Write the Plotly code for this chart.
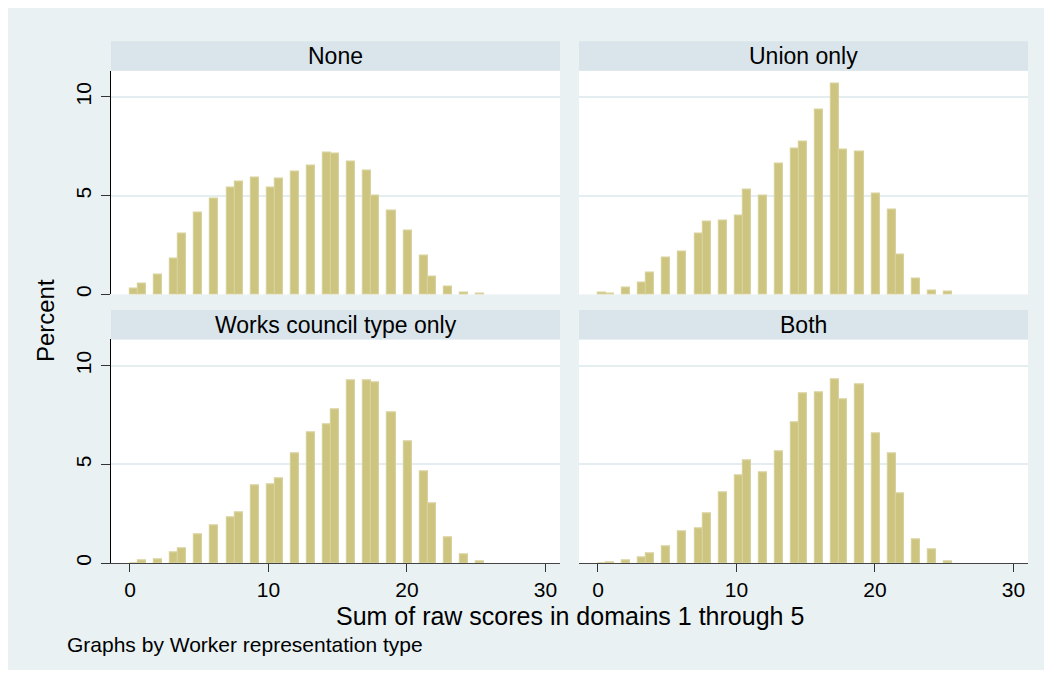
import math
import plotly.graph_objects as go

# ---------------- data ----------------
scores = list(range(26))  # sum of raw scores 0..25
none_pct = [0.27, 0.52, 1.02, 1.83, 3.09, 4.14, 4.85, 5.40, 5.70, 5.91, 5.40, 5.86, 6.21,
            6.51, 7.16, 7.11, 6.71, 6.26, 5.00, 4.24, 3.24, 1.98, 0.92, 0.37, 0.08, 0.03]
union_pct = [0.07, 0.02, 0.32, 0.57, 1.12, 1.88, 2.18, 3.09, 3.69, 3.74, 3.99, 5.30, 5.00,
             6.61, 7.37, 7.72, 9.33, 10.69, 7.32, 7.21, 5.10, 4.30, 2.03, 0.77, 0.17, 0.12]
works_pct = [0.0, 0.12, 0.17, 0.52, 0.72, 1.43, 1.93, 2.33, 2.58, 3.94, 3.99, 4.30, 5.55,
             6.61, 7.01, 7.77, 9.23, 9.23, 9.14, 7.62, 6.16, 4.65, 3.04, 1.28, 0.42, 0.07]
both_pct = [0.0, 0.02, 0.12, 0.27, 0.47, 0.87, 1.58, 1.78, 2.53, 3.59, 4.45, 5.20, 4.60,
            5.65, 7.11, 8.57, 8.67, 9.28, 8.27, 9.03, 6.56, 5.55, 3.54, 1.22, 0.67, 0.07]
panel_titles = ["None", "Union only", "Works council type only", "Both"]
x_ticks = [0, 10, 20, 30]
y_ticks = [0, 5, 10]
x_title = "Sum of raw scores in domains 1 through 5"
y_title = "Percent"
note = "Graphs by Worker representation type"

# histogram binning (Stata-like: 50 bins over the score range)
N_BINS = 50
SCORE_MIN, SCORE_MAX = 0.0, 29.05
bin_w = (SCORE_MAX - SCORE_MIN) / N_BINS
bin_centers = [SCORE_MIN + (math.floor((s - SCORE_MIN) / bin_w) + 0.5) * bin_w for s in scores]

# ---------------- layout helpers ----------------
OFF = 8                 # page margin of the html body
W, H = 1037, 662        # figure size
def px(x):
    return (x - OFF) / W
def py(y):
    return 1 - (y - OFF) / H

BG = "#e9f1f3"
STRIP = "#d9e5eb"
GRID = "#e4eef1"
FONT = "Liberation Sans"
BAR_FILL = "#ccc47f"
BAR_LINE = "#d8d19b"

col_px = [(111, 560), (579, 1028)]
row_px = [(71, 295.7), (341, 565.7)]
XR = [-1.37, 31.05]
YR = [0, 11.33]

fig = go.Figure()
series = [none_pct, union_pct, works_pct, both_pct]
layout_axes = {}
shapes = []
annotations = []
for i, vals in enumerate(series):
    r, c = divmod(i, 2)
    idx = "" if i == 0 else str(i + 1)
    fig.add_trace(go.Bar(
        x=bin_centers, y=vals, width=bin_w,
        marker=dict(color=BAR_FILL, line=dict(color=BAR_LINE, width=1.2)),
        xaxis="x" + idx, yaxis="y" + idx, showlegend=False,
    ))
    x0, x1 = col_px[c]
    y0, y1 = row_px[r]
    bottom = r == 1
    left = c == 0
    layout_axes["xaxis" + idx] = dict(
        domain=[px(x0), px(x1)], range=XR, anchor="y" + idx,
        showgrid=False, zeroline=False,
        showline=bottom, linecolor="#444", linewidth=1.2,
        ticks="outside" if bottom else "", ticklen=8, tickcolor="#333", tickwidth=1.2,
        tickvals=x_ticks, showticklabels=bottom,
        tickfont=dict(family=FONT, size=21, color="#000"),
    )
    layout_axes["yaxis" + idx] = dict(
        domain=[py(y1), py(y0)], range=YR, anchor="x" + idx,
        showgrid=True, gridcolor=GRID, gridwidth=2, zeroline=False,
        showline=left, linecolor="#000", linewidth=1.2,
        ticks="outside" if left else "", ticklen=9, tickcolor="#333", tickwidth=1.2,
        tickvals=y_ticks, showticklabels=left, tickangle=-90,
        tickfont=dict(family=FONT, size=21, color="#000"),
        ticklabelstandoff=2,
    )
    # strip
    sy0 = y0 - 29.5
    shapes.append(dict(type="rect", xref="paper", yref="paper",
                       x0=px(x0), x1=px(x1), y0=py(y0), y1=py(sy0),
                       fillcolor=STRIP, line=dict(width=0), layer="below"))
    annotations.append(dict(text=panel_titles[i], xref="paper", yref="paper",
                            x=px((x0 + x1) / 2), y=py((y0 + sy0) / 2),
                            xanchor="center", yanchor="middle", showarrow=False,
                            font=dict(family=FONT, size=23, color="#000")))

annotations.append(dict(text=x_title, xref="paper", yref="paper",
                        x=px(569.5), y=py(619), xanchor="center", yanchor="middle",
                        showarrow=False, font=dict(family=FONT, size=25, color="#000")))
annotations.append(dict(text=y_title, xref="paper", yref="paper",
                        x=px(45.5), y=py(322), xanchor="center", yanchor="middle",
                        textangle=-90, showarrow=False,
                        font=dict(family=FONT, size=24, color="#000")))
annotations.append(dict(text=note, xref="paper", yref="paper",
                        x=px(65), y=py(647), xanchor="left", yanchor="middle",
                        showarrow=False, font=dict(family=FONT, size=21, color="#000")))

fig.update_layout(
    width=W, height=H, margin=dict(l=0, r=0, t=0, b=0),
    paper_bgcolor=BG, plot_bgcolor="white", bargap=0,
    shapes=shapes, annotations=annotations, **layout_axes,
)
fig.write_html("out.html")
